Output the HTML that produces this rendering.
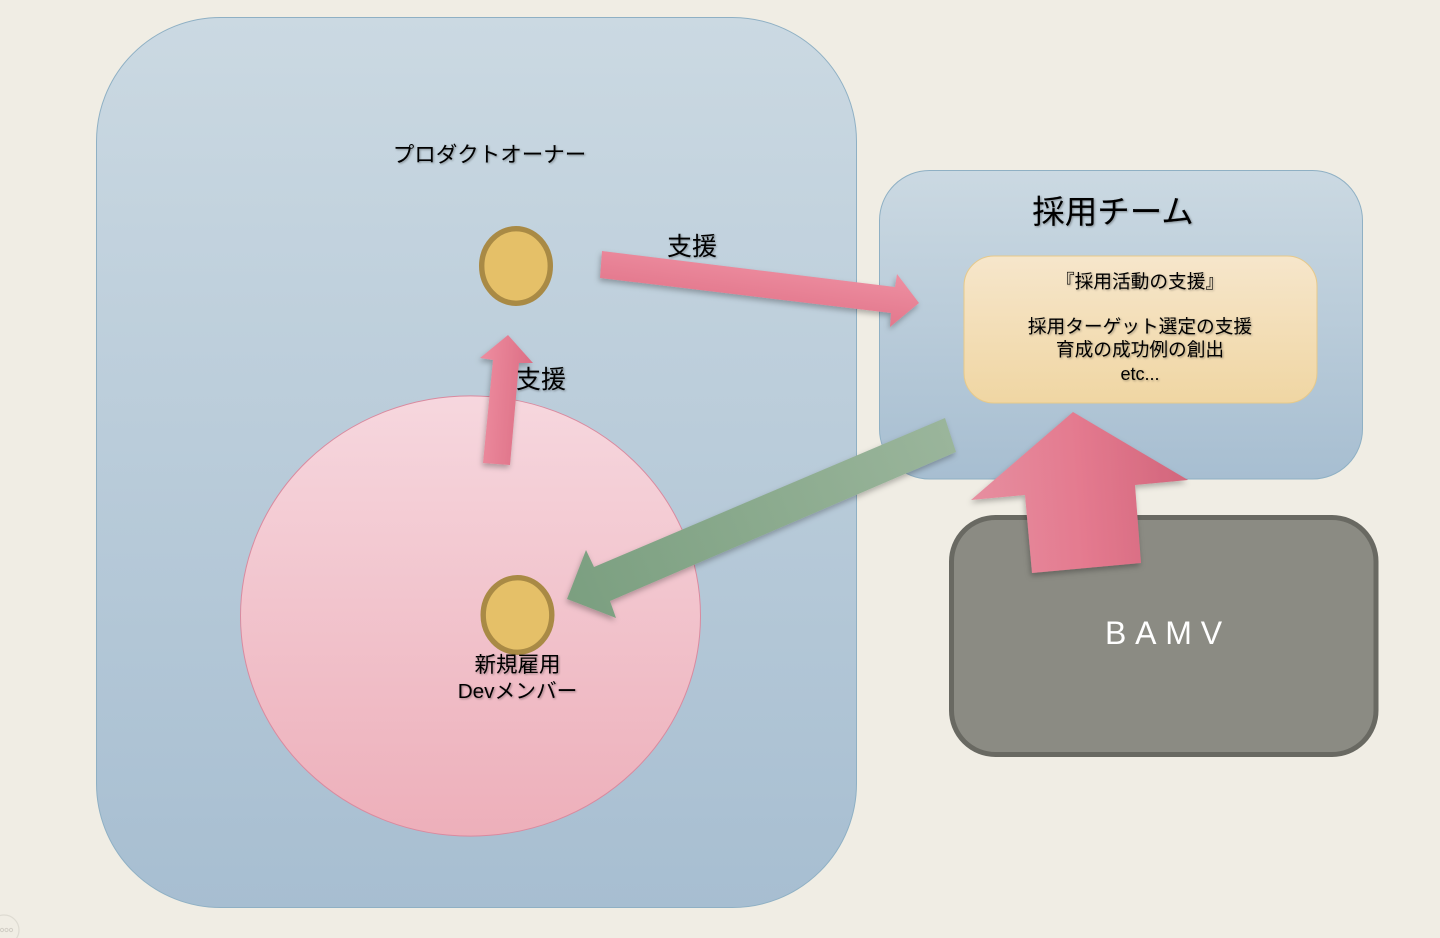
<!DOCTYPE html>
<html lang="ja">
<head>
<meta charset="utf-8">
<title>採用チーム</title>
<style>
html,body{margin:0;padding:0;width:1440px;height:938px;overflow:hidden;background:#f0ede4}
svg{display:block;position:absolute;left:0;top:0}
text{font-family:"Liberation Sans","Noto Sans CJK JP",sans-serif;fill:#000;text-anchor:middle}
</style>
</head>
<body>
<svg width="1440" height="938" viewBox="0 0 1440 938" xmlns="http://www.w3.org/2000/svg">
<defs>
<linearGradient id="blue" x1="0" y1="0" x2="0" y2="1"><stop offset="0" stop-color="#cbd9e2"/><stop offset="1" stop-color="#a7bed1"/></linearGradient>
<linearGradient id="pink" x1="0" y1="0" x2="0" y2="1"><stop offset="0" stop-color="#f6d7de"/><stop offset="1" stop-color="#edafba"/></linearGradient>
<linearGradient id="cream" x1="0" y1="0" x2="0" y2="1"><stop offset="0" stop-color="#f6e6cb"/><stop offset="1" stop-color="#f0d6a3"/></linearGradient>
<linearGradient id="a1" gradientUnits="userSpaceOnUse" x1="765" y1="255" x2="755" y2="325"><stop offset="0" stop-color="#ee90a2"/><stop offset="1" stop-color="#df6f85"/></linearGradient>
<linearGradient id="a2" gradientUnits="userSpaceOnUse" x1="483" y1="400" x2="527" y2="403"><stop offset="0" stop-color="#ec8a9d"/><stop offset="1" stop-color="#dd7086"/></linearGradient>
<linearGradient id="a3" gradientUnits="userSpaceOnUse" x1="971" y1="495" x2="1188" y2="480"><stop offset="0" stop-color="#e68fa0"/><stop offset="0.5" stop-color="#e47a8f"/><stop offset="1" stop-color="#d2667c"/></linearGradient>
<linearGradient id="g1" gradientUnits="userSpaceOnUse" x1="950" y1="435" x2="570" y2="600"><stop offset="0" stop-color="#9ab59b"/><stop offset="1" stop-color="#7b9f80"/></linearGradient>
<filter id="sh" x="-20%" y="-20%" width="140%" height="140%"><feDropShadow dx="-1" dy="3" stdDeviation="3" flood-color="#000" flood-opacity="0.28"/></filter>
<filter id="ts" x="-10%" y="-20%" width="120%" height="150%"><feDropShadow dx="1" dy="1" stdDeviation="1" flood-color="#000" flood-opacity="0.35"/></filter>
</defs>

<rect width="1440" height="938" fill="#f0ede4"/>

<rect x="96.5" y="17.5" width="760" height="890" rx="124" ry="124" fill="url(#blue)" stroke="#8fb0c4" stroke-width="1"/>
<rect x="879.5" y="170.5" width="483" height="308.5" rx="50" ry="50" fill="url(#blue)" stroke="#8fb0c4" stroke-width="1"/>

<circle cx="470.5" cy="616" r="230" fill="url(#pink)" stroke="#d98a9f" stroke-width="1" transform="translate(470.5 616) scale(1 .957) translate(-470.5 -616)"/>

<rect x="964" y="256" width="353" height="147" rx="30" ry="30" fill="url(#cream)" stroke="#e6c98b" stroke-width="1"/>

<rect x="951.5" y="517.5" width="424.5" height="237" rx="44" ry="44" fill="#8b8b83" stroke="#696962" stroke-width="5"/>

<ellipse cx="516" cy="266" rx="34.3" ry="37.3" fill="#e5c068" stroke="#a98a45" stroke-width="5.4"/>
<ellipse cx="517.5" cy="615" rx="34.3" ry="37.3" fill="#e5c068" stroke="#a98a45" stroke-width="5.4"/>

<polygon filter="url(#sh)" fill="url(#a1)" points="602,251 895,287 897,274 919,303 890,327 891,313 600,278"/>
<polygon filter="url(#sh)" fill="url(#a2)" points="483,463 493,360 480,358 508,335 533,363 519,363 510,465"/>
<polygon filter="url(#sh)" fill="url(#g1)" points="945,418 956,452 610,601 616,618 567,599 586,550 594,567"/>
<polygon filter="url(#sh)" fill="url(#a3)" points="1073,412 1188,480 1135,485 1141,563 1032,573 1025,495 971,500"/>

<g filter="url(#ts)">
<text x="489.5" y="162" font-size="21.5">プロダクトオーナー</text>
<text x="1113" y="223" font-size="32.5">採用チーム</text>
<text x="692" y="255" font-size="25">支援</text>
<text x="541" y="388" font-size="25">支援</text>
<text x="1140" y="288" font-size="18.7">『採用活動の支援』</text>
<text x="1140" y="333" font-size="18.7">採用ターゲット選定の支援</text>
<text x="1140" y="356" font-size="18.7">育成の成功例の創出</text>
<text x="1140" y="380" font-size="18">etc...</text>
<text x="517.5" y="672" font-size="21.5">新規雇用</text>
<text x="517.5" y="698" font-size="20.7">Devメンバー</text>
</g>
<text x="1105" y="644" font-size="32" style="fill:#fff;text-anchor:start;letter-spacing:8.8px">BAMV</text>

<circle cx="4" cy="930" r="15" fill="none" stroke="#dedbd2" stroke-width="1.2"/>
<g fill="none" stroke="#d2cfc6" stroke-width="1"><circle cx="2" cy="930" r="1.6"/><circle cx="6.5" cy="930" r="1.6"/><circle cx="11" cy="930" r="1.6"/></g>
</svg>
</body>
</html>
